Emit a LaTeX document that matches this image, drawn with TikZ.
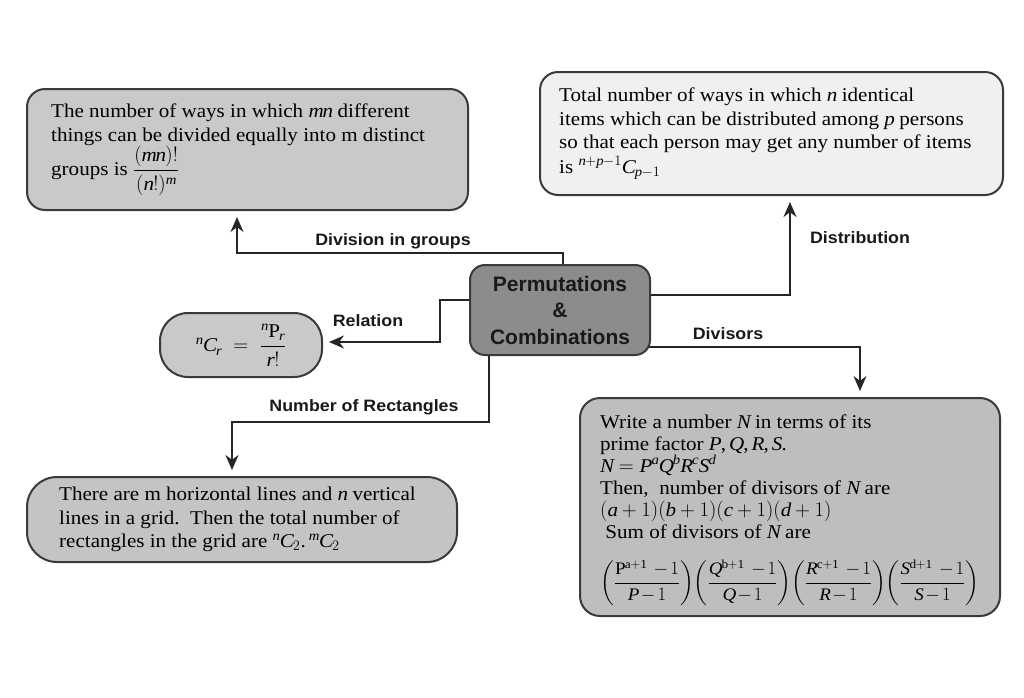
\documentclass[tikz,border=0pt]{standalone}
\usepackage{amsmath}
\usepackage{graphicx}
\usepackage{fontspec}
\setmainfont{Liberation Serif}[FakeStretch=1.08]
\newfontfamily\lblfont{Liberation Sans}[FakeStretch=1.08]
\newfontfamily\hubfont{Liberation Sans}
\DeclareSymbolFont{letters}{TU}{\rmdefault}{m}{it}
\mathcode`,="602C
\mathcode`.="002E
\usetikzlibrary{arrows.meta,calc}
\definecolor{boxA}{HTML}{C9C9C9}
\definecolor{boxB}{HTML}{F0F0F0}
\definecolor{boxC}{HTML}{8C8C8C}
\definecolor{boxD}{HTML}{C4C4C4}
\definecolor{boxE}{HTML}{BEBEBE}
\definecolor{edge}{HTML}{3A3A3A}
\tikzset{
  shell/.style={draw=edge, line width=2pt, inner sep=0pt},
  body/.style={anchor=west, align=left, inner sep=0pt,
    font=\fontsize{19.5}{23.5}\selectfont, text=black},
  lbl/.style={font=\lblfont\bfseries\fontsize{16.5}{19}\selectfont, text=black!90, inner sep=1pt},
  conn/.style={draw=black!85, line width=1.6pt, -{Stealth[length=15pt,width=13pt]}, shorten >=6pt},
}
\begin{document}
\begin{tikzpicture}[x=1pt,y=-1pt]
\useasboundingbox (0,0) rectangle (1024,697);

% boxes
\node[shell, fill=boxA, rounded corners=18pt, minimum width=441pt, minimum height=121pt] (B1) at (247.5,149.5) {};
\node[shell, fill=boxB, rounded corners=18pt, minimum width=463pt, minimum height=123pt] (B2) at (771.5,133.5) {};
\node[shell, fill=boxC, rounded corners=15pt, minimum width=180pt, minimum height=90pt,
  align=center, font=\hubfont\bfseries\fontsize{21}{26.5}\selectfont, text=black!90] (C) at (560,310)
  {Permutations\\ \&\\ Combinations};
\node[shell, fill=boxA, rounded corners=28pt, minimum width=162pt, minimum height=64pt,
  font=\fontsize{19.5}{23.5}\selectfont] (R) at (241,345)
  {${}^{n}C_r \;=\; \dfrac{{}^{n}\mathrm{P}_r}{r!}$};
\node[shell, fill=boxD, rounded corners=30pt, minimum width=430pt, minimum height=85pt] (BL) at (242,519.5) {};
\node[shell, fill=boxE, rounded corners=20pt, minimum width=420pt, minimum height=218pt] (BR) at (790,507) {};

% box texts
\node[body] (T1) at ($(B1.west)+(25,0)$)
  {The number of ways in which $mn$ different\\
   things can be divided equally into m distinct\\
   groups is $\dfrac{(mn)!}{(n!)^m}$};

\node[body] (T2) at ($(B2.west)+(20,0)$)
  {Total number of ways in which $n$ identical\\
   items which can be distributed among $p$ persons\\
   so that each person may get any number of items\\[1pt]
   is ${}^{n+p-1}C_{p-1}$};

\node[body] (T5) at ($(BL.west)+(33,0)$)
  {There are m horizontal lines and $n$ vertical\\
   lines in a grid.\ \ Then the total number of\\
   rectangles in the grid are ${}^{n}C_2.\,{}^{m}C_2$};

\node[body, font=\fontsize{19.5}{22}\selectfont] (T6) at ($(BR.west)+(21,3)$)
  {Write a number $N$ in terms of its\\
   prime factor $P, Q, R, S.$\\
   $N = P^aQ^bR^cS^d$\\
   Then,\ \ number of divisors of $N$ are\\
   $(a+1)(b+1)(c+1)(d+1)$\\
   \ Sum of divisors of $N$ are\\[20pt]
   \resizebox{379pt}{!}{$\medmuskip=2mu\left(\dfrac{\mathrm{P}^{\mathrm{a+1}}\ -1}{P-1}\right)\!\left(\dfrac{Q^{\mathrm{b+1}}\ -1}{Q-1}\right)\!\left(\dfrac{R^{\mathrm{c+1}}\ -1}{R-1}\right)\!\left(\dfrac{S^{\mathrm{d+1}}\ -1}{S-1}\right)$}};

% connectors
\draw[conn] ($(C.north)+(3,0)$) -- ++(0,-11) -| ($(B1.south)+(-10.5,0)$);
\draw[conn] ($(C.east)+(0,-15)$) -| ($(B2.south)+(18.5,0)$);
\draw[conn] ($(C.west)+(0,-10)$) -- ++(-29,0) |- ($(R.east)+(0,-3)$);
\draw[conn] ($(C.east)+(-2,37)$) -| ($(BR.north)+(70,0)$);
\draw[conn] ($(C.south)+(-71,0)$) -- ++(0,66) -| ($(BL.north)+(-10,0)$);

% labels
\node[lbl] (L1) at (393,241) {Division in groups};
\node[lbl] (L2) at (860,238) {Distribution};
\node[lbl] (L3) at (368,321) {Relation};
\node[lbl] (L4) at (728,334) {Divisors};
\node[lbl] (L5) at (364,407) {Number of Rectangles};
\end{tikzpicture}
\end{document}
